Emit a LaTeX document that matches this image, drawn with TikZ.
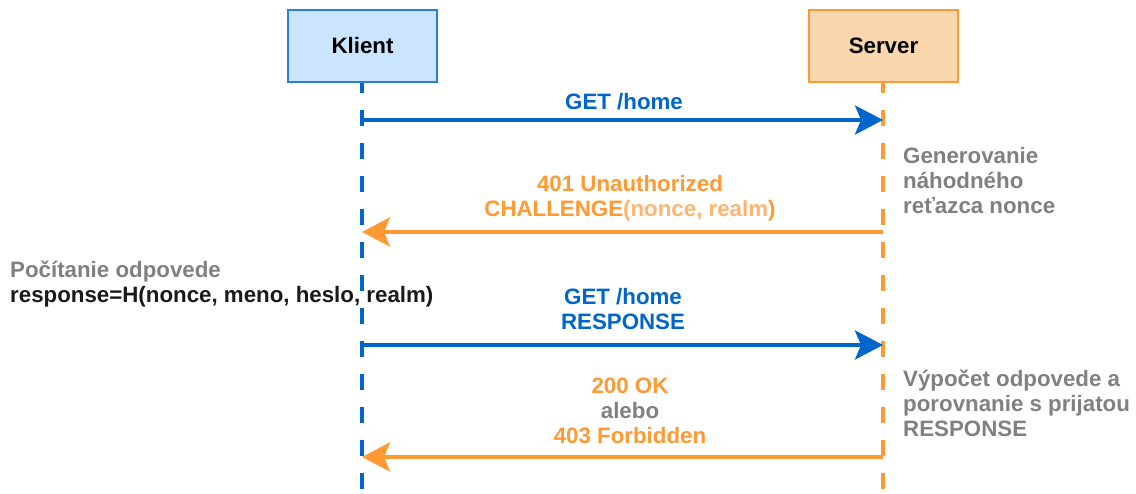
\documentclass[tikz,border=0pt]{standalone}
\usepackage{fontspec}
\setmainfont{Liberation Sans}
\usetikzlibrary{arrows.meta}

\definecolor{msgblue}{HTML}{0066CC}
\definecolor{msgorange}{HTML}{FF9933}
\definecolor{lightorange}{HTML}{FFB570}
\definecolor{notegray}{HTML}{808080}
\definecolor{clientfill}{HTML}{CCE5FF}
\definecolor{clientline}{HTML}{2A7DE1}
\definecolor{serverfill}{HTML}{FAD7AC}
\definecolor{darktext}{HTML}{1A1A1A}

\begin{document}
\begin{tikzpicture}[x=1pt,y=-1pt,
  every node/.style={font=\fontsize{22.3}{25}\selectfont\bfseries, inner sep=0pt},
  actor/.style={draw, minimum width=149pt, minimum height=72pt, line width=1.5pt},
  lifeline/.style={line width=4pt, dash pattern=on 16pt off 17pt, dash phase=6pt},
  msg/.style={line width=4pt, -{Stealth[length=28pt,width=29pt,inset=6pt]}},
  label/.style={align=center},
  note/.style={align=left, anchor=west, text=notegray}
]
\useasboundingbox (0,0) rectangle (1136,494);

% participants
\node[actor, fill=clientfill, draw=clientline] (klient) at (362.5,46) {Klient};
\node[actor, fill=serverfill, draw=msgorange] (server) at (883.5,46) {Server};

% lifelines
\coordinate (kend) at (362,494);
\coordinate (send) at (883,494);
\draw[lifeline, msgblue] (klient.south -| kend) -- (kend);
\draw[lifeline, msgorange] (server.south -| send) -- (send);

% message anchors on the lifelines
\coordinate (k1) at (362,120);  \coordinate (s1) at (883,120);
\coordinate (k2) at (362,232);  \coordinate (s2) at (883,232);
\coordinate (k3) at (362,345);  \coordinate (s3) at (883,345);
\coordinate (k4) at (362,457);  \coordinate (s4) at (883,457);

% messages
\draw[msg, msgblue] (k1) -- (s1);
\node[label, text=msgblue] (m1) at (624,102) {GET /home};

\draw[msg, msgorange] (s2) -- (k2);
\node[label, text=msgorange] (m2) at (630,198)
  {401 Unauthorized\\CHALLENGE{\color{lightorange}(nonce, realm}\color{msgorange})};

\draw[msg, msgblue] (k3) -- (s3);
\node[label, text=msgblue] (m3) at (623,309) {GET /home\\RESPONSE};

\draw[msg, msgorange] (s4) -- (k4);
\node[label, text=msgorange] (m4) at (630,411)
  {200 OK\\{\color{notegray}alebo}\\403 Forbidden};

% notes
\node[note] (n1) at (903,181) {Generovanie\\náhodného\\reťazca nonce};
\node[note] (n2) at (903,403) {Výpočet odpovede a\\porovnanie s prijatou\\RESPONSE};
\node[note] (n3) at (10,284) {Počítanie odpovede\\{\color{darktext}response=H(nonce, meno, heslo, realm)}};
\end{tikzpicture}
\end{document}
